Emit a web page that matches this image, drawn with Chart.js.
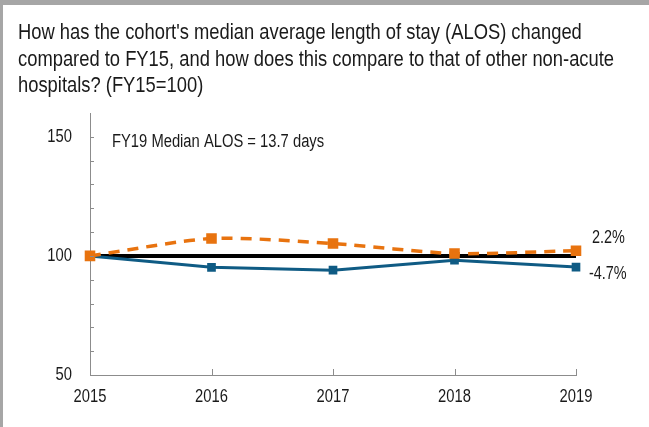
<!DOCTYPE html>
<html>
<head>
<meta charset="utf-8">
<script src="https://cdn.jsdelivr.net/npm/chart.js@4"></script>
<style>
  html, body { margin: 0; padding: 0; background: #fff; }
  body { width: 649px; height: 427px; position: relative; overflow: hidden; font-family: "Liberation Sans", Arial, sans-serif; }
  #chart { position: absolute; left: 0; top: 0; }
  /* the original uses a narrow face; squeeze a regular one to match */
  .title { position: absolute; left: 18px; top: 19px; font-size: 22.4px; line-height: 26.5px; color: #1a1a1a;
           white-space: nowrap; transform: scaleX(0.82); transform-origin: 0 0; }
  .edge-top { position: absolute; left: 0; top: 0; width: 649px; height: 5px; background: #a6a6a6; }
  .edge-left { position: absolute; left: 0; top: 0; width: 3px; height: 427px; background: #a6a6a6; }
</style>
</head>
<body>
<canvas id="chart" width="649" height="427"></canvas>
<div class="title">How has the cohort's median average length of stay (ALOS) changed<br>compared to FY15, and how does this compare to that of other non-acute<br>hospitals? (FY15=100)</div>
<div class="edge-top"></div>
<div class="edge-left"></div>
<script>
// --- data ---
const years = ['2015', '2016', '2017', '2018', '2019'];
const cohortAlos = [100, 95.2, 94.0, 98.2, 95.3];        // blue, ends -4.7%
const otherNonAcute = [100, 107.3, 105.2, 101.0, 102.2]; // orange dashed, ends 2.2%
const baseline = [100, 100, 100, 100, 100];
const yTickLabels = [50, 100, 150];
const yMinorTicks = [50, 60, 70, 80, 90, 100, 110, 120, 130, 140, 150];
const noteText = 'FY19 Median ALOS = 13.7 days';
const otherEndLabel = '2.2%';
const cohortEndLabel = '-4.7%';

const BLUE = '#0f5b84';
const ORANGE = '#e8730f';
const AXIS = '#8c8c8c';
const TEXT = '#1a1a1a';
const FONT = '"Liberation Sans", Arial, sans-serif';
const SQUEEZE = 0.82;

// narrow text: regular face scaled horizontally
function narrowText(ctx, str, x, y, align, size) {
  ctx.save();
  ctx.font = size + 'px ' + FONT;
  ctx.fillStyle = TEXT;
  ctx.textBaseline = 'middle';
  ctx.textAlign = align;
  ctx.translate(x, y);
  ctx.scale(SQUEEZE, 1);
  ctx.fillText(str, 0, 0);
  ctx.restore();
}

// inward tick marks, axis labels and notes
const extras = {
  id: 'extras',
  afterDatasetsDraw(chart) {
    const { ctx, chartArea, scales: { x, y } } = chart;
    ctx.save();
    ctx.strokeStyle = AXIS;
    ctx.lineWidth = 1;
    ctx.beginPath();
    yMinorTicks.forEach(v => {
      const py = Math.round(y.getPixelForValue(v)) + 0.5;
      ctx.moveTo(chartArea.left, py);
      ctx.lineTo(chartArea.left + 4, py);
    });
    years.forEach((_, i) => {
      const px = Math.round(x.getPixelForValue(i)) + 0.5;
      ctx.moveTo(px, chartArea.bottom);
      ctx.lineTo(px, chartArea.bottom - 6);
    });
    ctx.stroke();
    ctx.restore();

    yTickLabels.forEach(v => narrowText(ctx, String(v), chartArea.left - 18, y.getPixelForValue(v), 'right', 18));
    years.forEach((yr, i) => narrowText(ctx, yr, x.getPixelForValue(i), chartArea.bottom + 22, 'center', 18));

    narrowText(ctx, noteText, chartArea.left + 22, y.getPixelForValue(147.7), 'left', 18);

    const last = years.length - 1;
    const lx = x.getPixelForValue(last);
    narrowText(ctx, otherEndLabel, lx + 16, y.getPixelForValue(otherNonAcute[last]) - 13, 'left', 17.6);
    narrowText(ctx, cohortEndLabel, lx + 13, y.getPixelForValue(cohortAlos[last]) + 7, 'left', 17.6);
  }
};

new Chart(document.getElementById('chart'), {
  type: 'line',
  data: {
    labels: years,
    datasets: [
      {
        label: 'Other non-acute hospitals',
        data: otherNonAcute,
        borderColor: ORANGE,
        backgroundColor: ORANGE,
        borderWidth: 3.5,
        borderDash: [11, 8],
        pointStyle: 'rect',
        pointRadius: 5,
        tension: 0.25,
        order: 1
      },
      {
        label: 'Cohort',
        data: cohortAlos,
        borderColor: BLUE,
        backgroundColor: BLUE,
        borderWidth: 3,
        pointStyle: 'rect',
        pointRadius: 4,
        tension: 0,
        order: 2
      },
      {
        label: 'FY15 = 100',
        data: baseline,
        borderColor: '#000',
        borderWidth: 4,
        pointRadius: 0,
        order: 3
      }
    ]
  },
  options: {
    responsive: false,
    animation: false,
    layout: { padding: { top: 113, right: 73, left: 0, bottom: 0 } },
    plugins: { legend: { display: false }, tooltip: { enabled: false } },
    scales: {
      x: {
        offset: false,
        grid: { drawOnChartArea: false, drawTicks: false },
        border: { color: AXIS, width: 1 },
        ticks: { display: false },
        afterFit: s => { s.height = 52; }
      },
      y: {
        min: 50,
        max: 160,
        grid: { drawOnChartArea: false, drawTicks: false },
        border: { color: AXIS, width: 1 },
        ticks: { display: false },
        afterBuildTicks: s => { s.ticks = yTickLabels.map(v => ({ value: v })); },
        afterFit: s => { s.width = 90; }
      }
    }
  },
  plugins: [extras]
});
</script>
</body>
</html>
